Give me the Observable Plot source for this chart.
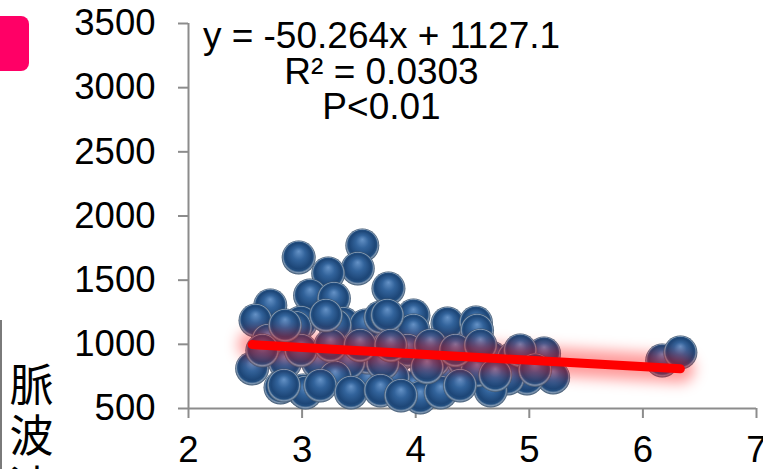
<!DOCTYPE html>
<html>
<head>
<meta charset="utf-8">
<script src="https://cdn.jsdelivr.net/npm/d3@7"></script>
<script src="https://cdn.jsdelivr.net/npm/@observablehq/plot@0.6"></script>
<style>
  html, body { margin: 0; padding: 0; background: #fff; overflow: hidden; }
  #wrap { position: relative; width: 763px; height: 469px; overflow: hidden; }
  #badge { position: absolute; left: -12px; top: 16px; width: 41px; height: 55px;
           background: #ff0066; border-radius: 8px; }
  #boxEdge { position: absolute; left: 0; top: 320px; height: 160px;
             border-left: 2px solid #7a7a7a; }
</style>
</head>
<body>
<div id="wrap">
  <div id="chart"></div>
  <div id="badge"></div>
  <div id="boxEdge"></div>
</div>
<script>
// Pulse wave velocity (y) against the horizontal measure (x)
const xValues = [
  2.97, 3.53, 3.49, 3.23, 3.76, 3.07, 3.28, 2.72, 2.59, 2.99,
  3.36, 3.56, 3.69, 3.98, 3.98, 4.28, 4.53, 2.56, 2.85, 3.16,
  2.70, 3.58, 2.81, 3.01, 4.28, 3.87, 3.34, 3.58, 2.94, 3.29,
  3.93, 4.16, 4.42, 4.66, 4.86, 5.13, 5.21, 4.98, 4.81, 4.66,
  3.98, 3.80, 4.04, 4.54, 3.41, 3.71, 3.14, 3.29, 3.03, 2.84,
  6.17, 6.33, 3.75, 4.54, 2.65, 2.99, 3.25, 3.51, 3.78, 4.13,
  4.35, 4.57, 4.92, 3.16, 3.43, 3.69, 3.87, 4.22, 4.39, 2.85,
  3.21, 4.10, 4.70, 5.05
];
const yValues = [
  1677, 1770, 1591, 1552, 1435, 1380, 1357, 1303, 1186, 1170,
  1162, 1147, 1209, 1225, 1108, 1162, 1170,  812,  858,  874,
  1030,  718,  664,  640,  773,  929,  929,  897, 1131, 1147,
   952,  874,  874,  897,  890,  929,  742,  734,  734,  640,
   664,  742,  586,  796,  858,  851,  858,  742,  625,  679,
   874,  936, 1225, 1108,  952,  952,  991,  991,  991,  991,
   952,  991,  952,  679,  625,  640,  601,  625,  679, 1147,
  1225,  820,  760,  800
];

// Fitted trend line and its statistics
const slope = -50.264;
const intercept = 1127.1;
const rSquared = 0.0303;
const pLabel = "P<0.01";

const xDomain = [2, 7];
const yDomain = [500, 3500];
const xTicks = [2, 3, 4, 5, 6, 7];
const yTicks = [500, 1000, 1500, 2000, 2500, 3000, 3500];
const yLabel = "脈波速度";

const points = xValues.map((x, i) => ({x, y: yValues[i]}));
const [xMin, xMax] = d3.extent(xValues);
const trend = [xMin, xMax].map(x => ({x, y: slope * x + intercept}));
const equation = [
  `y = ${slope}x + ${intercept}`,
  `R² = ${rSquared}`,
  pLabel
].join("\n");

const axisGray = "#8c8c8c";
const latin = "'Liberation Sans', Arial, sans-serif";

const chart = Plot.plot({
  width: 763,
  height: 469,
  marginLeft: 188,
  marginRight: 7,
  marginTop: 23,
  marginBottom: 61,
  x: {domain: xDomain},
  y: {domain: yDomain},
  style: {fontFamily: latin, fontSize: "36px", background: "transparent", overflow: "visible", color: "black"},
  marks: [
    Plot.axisY(yTicks, {tickSize: 10, tickPadding: 23, fontSize: 36.5, stroke: axisGray, strokeWidth: 2,
      fill: "black", tickFormat: d3.format("d"), label: null}),
    Plot.axisX(xTicks, {tickSize: 10, tickPadding: 18, fontSize: 36.5, stroke: axisGray, strokeWidth: 2,
      fill: "black", tickFormat: d3.format("d"), label: null}),
    Plot.ruleX([xDomain[0]], {stroke: axisGray, strokeWidth: 2}),
    Plot.ruleY([yDomain[0]], {stroke: axisGray, strokeWidth: 2}),
    Plot.dot(points, {x: "x", y: "y", r: 17, fill: "#2b5686", ariaDescription: "spheres"}),
    Plot.line(trend, {x: "x", y: "y", stroke: "red", strokeWidth: 28, strokeOpacity: 0.4,
      strokeLinecap: "round", ariaDescription: "trend-glow"}),
    Plot.line(trend, {x: "x", y: "y", stroke: "#ff0000", strokeWidth: 9, strokeLinecap: "round"}),
    Plot.text([equation], {text: d => d, frameAnchor: "top", dx: -91, dy: 0, lineAnchor: "top",
      textAnchor: "middle", fontSize: 37, lineHeight: 0.95, fill: "black"}),
    Plot.text([yLabel.split("").join("\n")], {text: d => d, frameAnchor: "bottom-left", dx: -157, dy: -44,
      lineAnchor: "top", textAnchor: "middle", fontSize: 44, lineHeight: 1.16, fill: "black",
      fontFamily: "'Noto Sans CJK JP', sans-serif"})
  ]
});

// Shaded sphere fill and soft glow for the trend line
const svg = d3.select(chart);
const defs = svg.insert("defs", ":first-child");
const grad = defs.append("radialGradient")
  .attr("id", "ball").attr("cx", "50%").attr("cy", "50%").attr("r", "50%")
  .attr("fx", "50%").attr("fy", "32%");
[
  [0, "#6592c6"], [0.38, "#32639b"], [0.76, "#1d4677"], [0.85, "#234f80"],
  [0.92, "#7e96b1"], [1, "#3b536d"]
].forEach(([o, c]) => grad.append("stop").attr("offset", o).attr("stop-color", c));
defs.append("filter").attr("id", "glow")
  .attr("filterUnits", "userSpaceOnUse")
  .attr("x", 0).attr("y", 0).attr("width", 763).attr("height", 469)
  .append("feGaussianBlur").attr("stdDeviation", 7);
const dotsGroup = svg.selectAll('g[aria-description="spheres"]');
dotsGroup.attr("fill", "url(#ball)");
dotsGroup.selectAll("circle").attr("fill", "url(#ball)");
svg.selectAll('g[aria-description="trend-glow"]').attr("filter", "url(#glow)");

document.getElementById("chart").appendChild(chart);
</script>
</body>
</html>
